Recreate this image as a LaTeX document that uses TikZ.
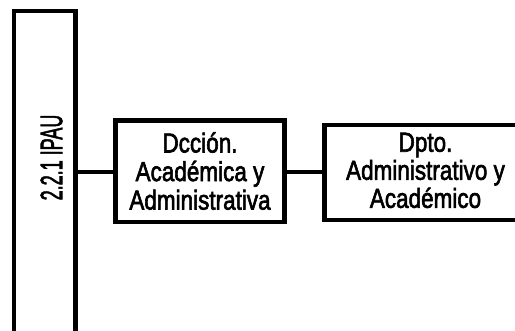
\documentclass[tikz,border=0pt]{standalone}
\usepackage{fontspec}
\usepackage{graphicx}
\setmainfont{Liberation Sans}
\newfontfamily\boxfont[FakeBold=2.5]{Liberation Sans}
\newfontfamily\rotfont[FakeBold=2.5]{Liberation Sans}
\newcommand{\boxlines}[2]{\scalebox{1}[1.22]{\vtop{\boxfont\fontsize{22.5}{23.4}\selectfont\baselineskip=#1\lineskiplimit=-1000pt\lineskip=0pt
  \halign{\hfil##\hfil\cr #2\crcr}}}}
\begin{document}
\begin{tikzpicture}[x=1pt,y=-1pt,
  boxline/.style={line width=4.8pt},
  unitbox/.style={boxline, draw=black, fill=white, rectangle, inner sep=0pt},
  boxtext/.style={inner sep=0pt, anchor=base},
  conn/.style={boxline, draw=black}]
\useasboundingbox (0,0) rectangle (515,331);
\clip (0,0) rectangle (515,331);
\fill[white] (0,0) rectangle (515,331);
% left tall box
\node[unitbox, minimum width=61.5pt, minimum height=340pt] (root) at (44.75,181) {};
\node[rotate=90, inner sep=0pt, font=\rotfont\fontsize{18}{20}\selectfont] (roottext) at (51.5,157.5) {\scalebox{1}[1.72]{2.2.1 IPAU}};
% boxes
\node[unitbox, minimum width=169pt, minimum height=101.5pt] (dir) at (200,171.25) {};
\node[boxtext] (dirtext) at (200,152.5) {\boxlines{23.4pt}{Dcción.\cr Académica y\cr Administrativa}};
\node[unitbox, minimum width=202.5pt, minimum height=95pt] (dept) at (425.75,172.5) {};
\node[boxtext] (depttext) at (425.5,151.7) {\boxlines{23.0pt}{Dpto.\cr Administrativo y\cr Académico}};
% connectors
\draw[conn] (root.east |- 0,172) -- (dir.west |- 0,172);
\draw[conn] (dir.east |- 0,172) -- (dept.west |- 0,172);
\end{tikzpicture}
\end{document}
